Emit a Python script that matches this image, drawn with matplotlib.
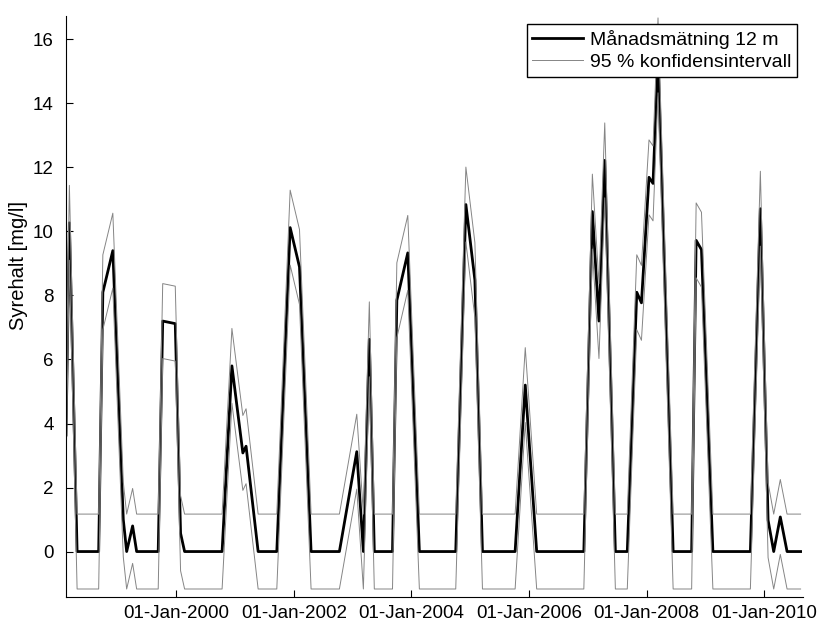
import numpy as np
import pandas as pd
import matplotlib
matplotlib.use('Agg')
import matplotlib.pyplot as plt
import matplotlib.dates as mdates

# Monthly oxygen readings at 12 m depth
dates = ['1998-02-14', '1998-03-07', '1998-04-24', '1998-09-05', '1998-10-01',
         '1998-12-02', '1999-02-05', '1999-02-26', '1999-04-04', '1999-04-29',
         '1999-09-10', '1999-10-08', '1999-12-25', '2000-01-27', '2000-02-21',
         '2000-10-11', '2000-12-11', '2001-02-17', '2001-03-09', '2001-05-23',
         '2001-09-16', '2001-12-08', '2002-02-04', '2002-04-17', '2002-10-10',
         '2003-01-26', '2003-03-08', '2003-04-14', '2003-05-15', '2003-09-05',
         '2003-10-02', '2003-12-09', '2004-02-19', '2004-10-02', '2004-12-04',
         '2005-01-29', '2005-03-17', '2005-10-06', '2005-12-08', '2006-02-17',
         '2006-12-07', '2007-01-29', '2007-03-11', '2007-04-16', '2007-06-21',
         '2007-09-03', '2007-11-01', '2007-11-30', '2008-01-16', '2008-02-10',
         '2008-03-12', '2008-06-14', '2008-10-07', '2008-11-04', '2008-12-07',
         '2009-02-16', '2009-10-07', '2009-12-08', '2010-01-25', '2010-03-01',
         '2010-04-11', '2010-05-23', '2010-08-15']
syrehalt = [3.64, 10.27, 0.0, 0.0, 8.10,
            9.40, 1.00, 0.0, 0.80, 0.0,
            0.0, 7.20, 7.12, 0.57, 0.0,
            0.0, 5.80, 3.08, 3.29, 0.0,
            0.0, 10.12, 8.89, 0.0, 0.0,
            3.12, 0.0, 6.63, 0.0, 0.0,
            7.85, 9.33, 0.0, 0.0, 10.84,
            8.48, 0.0, 0.0, 5.20, 0.0,
            0.0, 10.62, 7.20, 12.22, 0.0,
            0.0, 8.10, 7.77, 11.69, 11.50,
            15.50, 0.0, 0.0, 9.72, 9.43,
            0.0, 0.0, 10.71, 0.98, 0.0,
            1.08, 0.0, 0.0]
ci_half = 1.17  # half width of the 95 % interval [mg/l]

t = pd.to_datetime(dates)
y = np.array(syrehalt)

plt.rcParams['font.family'] = ['Liberation Sans', 'DejaVu Sans']

fig = plt.figure(figsize=(8.18, 6.21), dpi=100)
ax = fig.add_axes([66 / 818, 1 - 597 / 621, (803 - 66) / 818, (597 - 16) / 621])

ax.plot(t, y, color='black', lw=2.0, label='Månadsmätning 12 m')
ax.plot(t, y + ci_half, color='#858585', lw=0.7, label='95 % konfidensintervall')
ax.plot(t, y - ci_half, color='#858585', lw=0.7)

ax.set_xlim(pd.Timestamp('1998-02-14'), pd.Timestamp('2010-08-30'))
ax.set_ylim(-1.42, 16.73)
ax.set_yticks(np.arange(0, 17, 2))

ax.xaxis.set_major_locator(mdates.YearLocator(2))
ax.xaxis.set_major_formatter(mdates.DateFormatter('%d-%b-%Y'))

ax.spines['top'].set_visible(False)
ax.spines['right'].set_visible(False)
ax.spines['left'].set_linewidth(0.8)
ax.spines['bottom'].set_linewidth(0.8)
ax.tick_params(direction='in', length=5, width=0.8, labelsize=13.5)
ax.tick_params(axis='y', pad=9)
ax.tick_params(axis='x', pad=6)

ax.set_ylabel('Syrehalt [mg/l]', fontsize=14.5)
ax.yaxis.set_label_coords(-0.051, 0.57)

leg = ax.legend(loc='upper right', bbox_to_anchor=(797 / 818, 1 - 24 / 621),
                bbox_transform=fig.transFigure, borderaxespad=0,
                fontsize=14, handlelength=2.6, handletextpad=0.35,
                labelspacing=0.25, borderpad=0.3, fancybox=False)
leg.get_frame().set_edgecolor('black')
leg.get_frame().set_linewidth(1.0)
leg.get_frame().set_alpha(1.0)

fig.savefig('out.png', dpi=100)
